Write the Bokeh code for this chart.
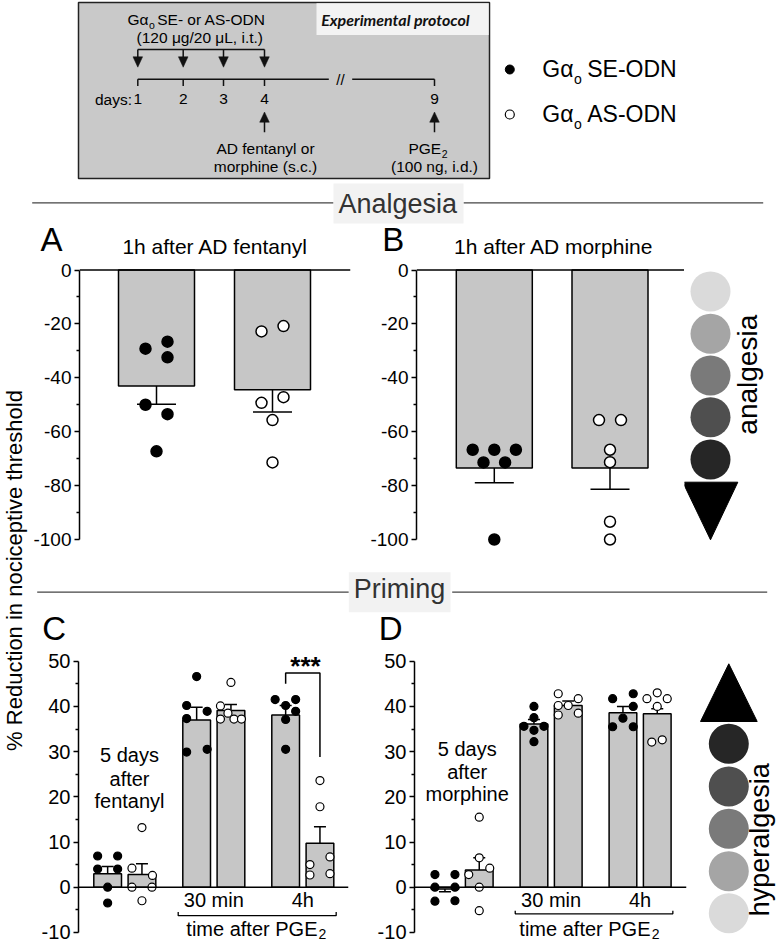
import numpy as np
from bokeh.plotting import figure
from bokeh.layouts import row, column
from bokeh.models import Range1d, FixedTicker, Span
from bokeh.core.properties import value
from bokeh.embed import file_html
from bokeh.resources import INLINE

FONT = "Liberation Sans"

# ---------------- data ----------------
ab_groups = ["SE-ODN", "AS-ODN"]
A_mean = [-43.0, -44.4]
A_sem = [6.8, 8.3]
A_SE = [-29.2, -26.6, -32.4, -50.0, -53.5, -67.3]
A_AS = [-22.8, -20.8, -49.3, -47.2, -55.7, -71.4]

B_mean = [-73.5, -73.5]
B_sem = [5.4, 7.9]
B_SE = [-66.7, -66.7, -66.7, -71.4, -71.4, -100.0]
B_AS = [-55.7, -55.7, -66.7, -71.3, -93.4, -100.0]

cd_groups = ["5 days", "30 min", "4h"]
C_SE_mean = [3.0, 37.0, 38.1]
C_SE_sem = [1.6, 2.8, 2.1]
C_AS_mean = [2.8, 39.1, 9.7]
C_AS_sem = [2.4, 1.3, 3.7]
C_SE = [[6.9, 6.9, 4.0, 4.0, 0.0, -3.5],
        [46.6, 40.2, 38.9, 37.3, 29.9, 30.5],
        [41.5, 41.5, 40.2, 38.9, 37.1, 30.5]]
C_AS = [[13.2, 4.2, 2.6, 0.0, 0.0, -3.0],
        [45.3, 40.1, 38.5, 37.2, 37.2, 37.2],
        [23.6, 17.8, 6.7, 5.0, 3.0, 2.7]]

D_SE_mean = [-0.4, 36.1, 38.6]
D_SE_sem = [0.6, 1.0, 1.4]
D_AS_mean = [3.8, 40.2, 38.4]
D_AS_sem = [2.7, 1.0, 1.1]
D_SE = [[2.8, 2.8, 0.0, 0.0, -3.1, -3.0],
        [40.0, 37.5, 35.6, 35.6, 34.7, 32.2],
        [41.7, 42.8, 40.0, 37.4, 35.5, 35.5]]
D_AS = [[15.5, 6.5, 4.2, 2.8, 0.0, -5.2],
        [42.8, 41.7, 40.2, 40.2, 38.1, 38.5],
        [41.7, 43.0, 41.7, 40.0, 32.1, 32.6]]

ab_ticks = [-100, -80, -60, -40, -20, 0]
ab_minor = [-90, -70, -50, -30, -10]
cd_ticks = [-10, 0, 10, 20, 30, 40, 50]
cd_minor = [-5, 5, 15, 25, 35, 45]

# ---------------- layout constants (pixels) ----------------
A_SE_dx = [-11, 11, 11, -11, 11, 0]
A_AS_dx = [-11, 11, -11, 11, 0, 0]
B_SE_dx = [-21.6, 0, 21.6, -10.8, 10.8, 0]
B_AS_dx = [-11, 11, 0, 0, 0, 0]
C_SE_dx = [[-10, 10, -10, 10, 0, 0], [0, -10, 10.5, -10, -10, 10.5], [-10.5, 10, 0, 10, 0, 0]]
C_AS_dx = [[0, -10, 10.5, -10, 10, 0], [0, -10.5, -3, -10.5, 3, 10.5], [0, 0, 10, -10, 10, -10]]
D_SE_dx = [[-10, 10, -10, 10, -10, 10], [0, 0, -10, 10, 0, 0], [-10.3, 10.3, 10.3, 0, -10.3, 10.3]]
D_AS_dx = [[0, 0, 10.5, -10.5, 0, 0], [-10, 10, -10, 0, -10, 10], [-10.3, 0, 10, 0, -5.5, 5]]

BAR = "#c6c6c6"
KB = 0.35  # baseline correction (fraction of font size) for alphabetic text
STRIP_W = 28


def txt(p, x, y, s, size, align="left", style="normal", color="black",
        rot=False, uy=None, font=FONT):
    """Text whose baseline should sit at (x, y).  uy: px per data unit (data panels)."""
    if rot:
        x = x - KB * size
        ang = np.pi / 2
    elif uy is None:
        y = y - KB * size
        ang = 0.0
    else:
        y = y + KB * size / uy
        ang = 0.0
    p.text(x=[x], y=[y], text=[s], text_font=value(font), text_font_size=f"{size}px",
           text_align=align, text_baseline="alphabetic", text_font_style=style,
           text_color=color, angle=ang)


def pixfig(x0, x1, y0, y1):
    p = figure(width=int(x1 - x0), height=int(y1 - y0),
               x_range=Range1d(x0, x1), y_range=Range1d(y1, y0),
               title=None, toolbar_location=None, output_backend="svg",
               x_axis_location=None, y_axis_location=None,
               min_border_left=0, min_border_right=0, min_border_top=0, min_border_bottom=0)
    p.outline_line_color = None
    p.grid.visible = False
    return p


def data_panel(fx0, fx1, ry0, ry1, fl, fr, c0, ux, v0, uy, ticks, minor, tick_size):
    p = figure(width=fx1 - fx0, height=ry1 - ry0,
               x_range=Range1d((fl - c0) / ux, (fr - c0) / ux),
               y_range=Range1d((v0 - ry1) / uy, (v0 - ry0) / uy),
               title=None, toolbar_location=None, output_backend="svg",
               x_axis_location=None, y_axis_location="left",
               min_border_left=fl - fx0, min_border_right=fx1 - fr,
               min_border_top=0, min_border_bottom=0)
    p.outline_line_color = None
    p.grid.visible = False
    ax = p.yaxis[0]
    ax.ticker = FixedTicker(ticks=ticks, minor_ticks=minor)
    ax.bounds = (min(ticks), max(ticks))
    ax.major_label_overrides = {t: str(t) for t in ticks}
    ax.axis_line_width = 1.5
    ax.axis_line_color = "black"
    ax.major_tick_line_width = 1.5
    ax.minor_tick_line_width = 1.5
    ax.major_tick_line_color = "black"
    ax.minor_tick_line_color = "black"
    ax.major_tick_in = 0
    ax.major_tick_out = 5
    ax.minor_tick_in = 0
    ax.minor_tick_out = 3
    ax.major_label_standoff = 3
    ax.major_label_text_font = FONT
    ax.major_label_text_font_size = tick_size
    ax.major_label_text_color = "black"
    p.add_layout(Span(location=0, dimension="width", line_color="black", line_width=1.5))
    return p


def bars(p, xs, means, sems, width, capw):
    p.vbar(x=xs, top=means, bottom=0, width=width, fill_color=BAR,
           line_color="black", line_width=1.5)
    ends = [m + (s if m >= 0 else -s) for m, s in zip(means, sems)]
    p.segment(x0=xs, y0=means, x1=xs, y1=ends, line_color="black", line_width=1.5)
    p.segment(x0=[x - capw / 2 for x in xs], y0=ends, x1=[x + capw / 2 for x in xs], y1=ends,
              line_color="black", line_width=1.5)


def dots(p, xs, ys, filled, size, lw):
    p.scatter(x=xs, y=ys, size=size, marker="circle",
              fill_color="black" if filled else "white", line_color="black", line_width=lw)


# ---------------- panels A / B ----------------
AB_Y0, AB_Y1 = 258, 550
ab_v0, ab_uy = 269.5, 2.695
pA = data_panel(STRIP_W, 366, AB_Y0, AB_Y1, 79, 350, 156.0, 116.0, ab_v0, ab_uy, ab_ticks, ab_minor, "19px")
pB = data_panel(366, 684, AB_Y0, AB_Y1, 416, 684, 493.8, 115.7, ab_v0, ab_uy, ab_ticks, ab_minor, "19px")

for p, means, sems, se, as_, unit, se_dx, as_dx in [
        (pA, A_mean, A_sem, A_SE, A_AS, 116.0, A_SE_dx, A_AS_dx),
        (pB, B_mean, B_sem, B_SE, B_AS, 115.7, B_SE_dx, B_AS_dx)]:
    xs = list(range(len(ab_groups)))
    bars(p, xs, means, sems, 76 / unit, 39 / unit)
    dots(p, [xs[0] + d / unit for d in se_dx], se, True, 11, 1.5)
    dots(p, [xs[1] + d / unit for d in as_dx], as_, False, 11, 1.5)

# ---------------- panels C / D ----------------
CD_Y0, CD_Y1 = 648, 943
cd_v0, cd_uy = 886.7, 4.52
CD_UX = 89.0
OFF = 17.15 / CD_UX
BW = 27.7 / CD_UX
CAP = 12 / CD_UX
pC = data_panel(STRIP_W, 364, CD_Y0, CD_Y1, 78, 348, 124.3, CD_UX, cd_v0, cd_uy, cd_ticks, cd_minor, "20px")
pD = data_panel(364, 696, CD_Y0, CD_Y1, 414, 686, 461.6, CD_UX, cd_v0, cd_uy, cd_ticks, cd_minor, "20px")

for p, sem_, ses_, asm_, ass_, sep, asp, sdx, adx in [
        (pC, C_SE_mean, C_SE_sem, C_AS_mean, C_AS_sem, C_SE, C_AS, C_SE_dx, C_AS_dx),
        (pD, D_SE_mean, D_SE_sem, D_AS_mean, D_AS_sem, D_SE, D_AS, D_SE_dx, D_AS_dx)]:
    g = np.arange(len(cd_groups))
    xse = list(g - OFF)
    xas = list(g + OFF)
    bars(p, xse, sem_, ses_, BW, CAP)
    bars(p, xas, asm_, ass_, BW, CAP)
    for i in range(len(cd_groups)):
        dots(p, [xse[i] + d / CD_UX for d in sdx[i]], sep[i], True, 8, 1.2)
        dots(p, [xas[i] + d / CD_UX for d in adx[i]], asp[i], False, 8, 1.2)
    txt(p, 1, -4.4, cd_groups[1], 20, "center", uy=cd_uy)
    txt(p, 2, -4.4, cd_groups[2], 20, "center", uy=cd_uy)

# C annotations
txt(pC, 0.053, 27.6, "5 days", 20, "center", uy=cd_uy)
txt(pC, 0.053, 22.5, "after", 20, "center", uy=cd_uy)
txt(pC, 0.053, 17.5, "fentanyl", 20, "center", uy=cd_uy)
pC.line(x=[0.600, 0.600, 2.375, 2.375], y=[-5.5, -6.3, -6.3, -5.5], line_color="black", line_width=1.3)
txt(pC, 2.165, -10.7, "time after PGE", 20, "right", uy=cd_uy)
txt(pC, 2.177, -11.5, "2", 14, "left", uy=cd_uy)
pC.line(x=[2 - OFF, 2 - OFF, 2 + OFF, 2 + OFF], y=[45.0, 47.4, 47.4, 28.8], line_color="black", line_width=1.5)
txt(pC, 2.03, 47.0, "***", 26, "center", style="bold", uy=cd_uy)

# D annotations
txt(pD, 0.057, 29.1, "5 days", 20, "center", uy=cd_uy)
txt(pD, 0.057, 24.0, "after", 20, "center", uy=cd_uy)
txt(pD, 0.057, 19.0, "morphine", 20, "center", uy=cd_uy)
pD.line(x=[0.597, 0.597, 2.368, 2.368], y=[-5.2, -5.9, -5.9, -5.2], line_color="black", line_width=1.3)
txt(pD, 2.117, -10.7, "time after PGE", 20, "right", uy=cd_uy)
txt(pD, 2.130, -11.5, "2", 14, "left", uy=cd_uy)

# ---------------- top figure: protocol, legend, header ----------------
top = pixfig(STRIP_W, 777, 0, AB_Y0)
top.quad(left=78, right=489, top=2, bottom=178, fill_color="#c9c9c9", line_color="#222222", line_width=1.5)
top.quad(left=316, right=488.2, top=2.8, bottom=34.5, fill_color="#f3f3f3", line_color=None)
txt(top, 320.7, 25, "Experimental protocol", 16, style="bold italic", color="#111111", font="Lato")

days_x = [137.3, 182.7, 223.0, 264.0, 434.0]
days_lab = ["1", "2", "3", "4", "9"]
xs_l, ys_l = [], []
xs_l.append([137.3, 264.0]); ys_l.append([49, 49])
for dx in days_x[:4]:
    xs_l.append([dx, dx]); ys_l.append([49, 57])
xs_l.append([137.3, 328.3]); ys_l.append([78.7, 78.7])
xs_l.append([351.7, 434.0]); ys_l.append([78.7, 78.7])
for dx in days_x:
    xs_l.append([dx, dx]); ys_l.append([78.7, 85.5])
for dx in (264.0, 434.0):
    xs_l.append([dx, dx]); ys_l.append([120, 131.7])
top.multi_line(xs=xs_l, ys=ys_l, line_color="#111111", line_width=1.5)
tri_x, tri_y = [], []
for dx in days_x[:4]:
    tri_x.append([dx - 4.8, dx + 4.8, dx]); tri_y.append([56.3, 56.3, 66.7])
for dx in (264.0, 434.0):
    tri_x.append([dx - 4.8, dx + 4.8, dx]); tri_y.append([121.7, 121.7, 111.5])
top.patches(xs=tri_x, ys=tri_y, fill_color="#111111", line_color="#111111", line_width=0.5)

txt(top, 148.0, 24, "G\u03b1", 15.5, "right")
txt(top, 148.5, 28.3, "o", 10.5)
txt(top, 156.7, 24, "SE- or AS-ODN", 15.5)
txt(top, 199.3, 42.7, "(120 \u03bcg/20 \u03bcL, i.t.)", 15.5, "center")
txt(top, 131.5, 104.3, "days:", 15.5, "right")
for dx, lab in zip(days_x, days_lab):
    txt(top, dx, 104.3, lab, 15.5, "center")
txt(top, 340.0, 84.0, "//", 15, "center")
txt(top, 265.0, 153.5, "AD fentanyl or", 15.5, "center")
txt(top, 265.0, 171.0, "morphine (s.c.)", 15.5, "center")
txt(top, 440.7, 153.5, "PGE", 15.5, "right")
txt(top, 441.2, 157.0, "2", 10.5)
txt(top, 434.0, 171.0, "(100 ng, i.d.)", 15.5, "center")

# legend
top.scatter(x=[509.3], y=[69], size=9, marker="circle", fill_color="black", line_color="black")
top.scatter(x=[509.3], y=[114], size=9, marker="circle", fill_color="white", line_color="black", line_width=1.2)
for yb, lab in [(76.7, ab_groups[0]), (121.7, ab_groups[1])]:
    txt(top, 573.0, yb, "G\u03b1", 23, "right")
    txt(top, 573.5, yb + 6.6, "o", 14)
    txt(top, 586.7, yb, lab, 23)

# Analgesia header
top.multi_line(xs=[[31.7, 333], [463, 762.7]], ys=[[202.3, 202.3], [202.3, 202.3]], line_color="#444444", line_width=1.3)
top.quad(left=333, right=463, top=183, bottom=223, fill_color="#f2f2f2", line_color=None)
txt(top, 338, 212.7, "Analgesia", 27, color="#333333")
txt(top, 40, 250.8, "A", 33)
txt(top, 381.7, 250.8, "B", 33)
txt(top, 214.7, 253.0, "1h after AD fentanyl", 21, "center")
txt(top, 553.3, 253.0, "1h after AD morphine", 21, "center")

# ---------------- middle figure: Priming header ----------------
mid = pixfig(STRIP_W, 777, AB_Y1, CD_Y0)
mid.multi_line(xs=[[36.7, 348.3], [451.7, 766.7]], ys=[[591.7, 591.7], [591.7, 591.7]], line_color="#444444", line_width=1.3)
mid.quad(left=348.3, right=450, top=571.7, bottom=611.7, fill_color="#f2f2f2", line_color=None)
txt(mid, 353.3, 598.3, "Priming", 27, color="#333333")
txt(mid, 41.7, 640, "C", 33)
txt(mid, 378.3, 640, "D", 33)

# ---------------- icons ----------------
grays = ["#dadada", "#a5a5a5", "#7a7a7a", "#4f4f4f", "#262626"]
icA = pixfig(684, 777, AB_Y0, AB_Y1)
icA.scatter(x=[710] * 5, y=[291, 333.3, 375, 416.7, 459], size=40, marker="circle",
            fill_color=grays, line_color=None)
icA.patch(x=[682.3, 737.3, 710], y=[481.7, 481.7, 539.3], fill_color="black", line_color="black")
txt(icA, 757, 374.2, "analgesia", 28, "center", rot=True)

icC = pixfig(696, 777, CD_Y0, CD_Y1)
icC.patch(x=[700, 756.7, 728.3], y=[721, 721, 663.3], fill_color="black", line_color="black")
icC.scatter(x=[728.3] * 5, y=[743.3, 786, 828.3, 870.7, 912.7], size=40, marker="circle",
            fill_color=grays[::-1], line_color=None)
txt(icC, 769, 839.2, "hyperalgesia", 27, "center", rot=True)

# ---------------- y-axis label strip ----------------
strip = pixfig(0, STRIP_W, 0, 943)
txt(strip, 22.0, 570, "% Reduction in nociceptive threshold", 22, "center", rot=True)

layout = row(strip, column(top, row(pA, pB, icA), mid, row(pC, pD, icC)))

open("out.html", "w").write(file_html(layout, INLINE))
